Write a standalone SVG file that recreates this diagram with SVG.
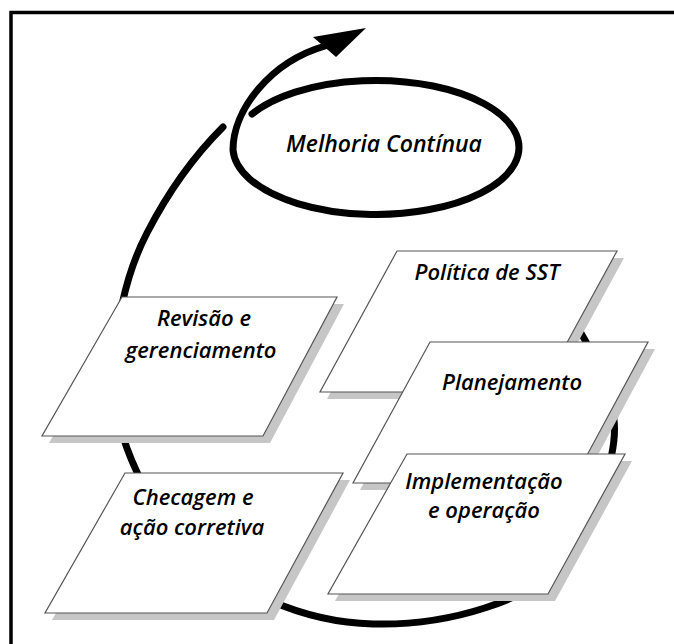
<svg xmlns="http://www.w3.org/2000/svg" width="674" height="644" viewBox="0 0 674 644">
<style>
.lbl{font-family:"Open Sans","Lato","DejaVu Sans",sans-serif;font-style:italic;font-weight:600;font-size:22px;fill:#000;text-anchor:middle}
.box{fill:#fff;stroke:#555;stroke-width:1.2}
.sh{fill:#c6c6c6}
.arc{fill:none;stroke:#000;stroke-width:7;stroke-linecap:round}
</style>
<rect width="674" height="644" fill="#fff"/>
<path d="M11 660 V12.5 H690" fill="none" stroke="#000" stroke-width="3.5"/>
<g id="connectors">
<path class="arc" d="M556 300 C572 315 608 370 614 420 C618 455 595 520 565 562 C530 600 450 626 373 624 C300 622 235 590 190 548 C150 510 114 440 114 380 C114 330 125 275 147 233 C165 198 190 160 223 127"/>
<path class="arc" d="M252 114 A143 67 0 1 1 233 150 C233 110 270 62 325 46"/>
<polygon points="366,28 313,37 336,57" fill="#000"/>
</g>
<g id="melhoria">
<text class="lbl" x="384" y="152" style="font-size:23px">Melhoria Contínua</text>
</g>
<g id="revisao">
<polygon class="sh" points="129,304 344,304 270,443 49,443"/>
<polygon class="box" points="122,297 337,297 263,436 42,436"/>
<text class="lbl" x="204" y="326">Revisão e</text>
<text class="lbl" x="201" y="358">gerenciamento</text>
</g>
<g id="checagem">
<polygon class="sh" points="132,480 350,480 274,620 52,620"/>
<polygon class="box" points="125,473 343,473 267,613 45,613"/>
<text class="lbl" x="193" y="505">Checagem e</text>
<text class="lbl" x="192" y="535">ação corretiva</text>
</g>
<g id="politica">
<polygon class="sh" points="404,258 624,258 547,399 327,399"/>
<polygon class="box" points="397,251 617,251 540,392 320,392"/>
<text class="lbl" x="487" y="280">Política de SST</text>
</g>
<g id="planejamento">
<polygon class="sh" points="437,349 655,349 579,490 360,490"/>
<polygon class="box" points="430,342 648,342 572,483 353,483"/>
<text class="lbl" x="512" y="390">Planejamento</text>
</g>
<g id="implementacao">
<polygon class="sh" points="414,461 632,461 555,601 335,601"/>
<polygon class="box" points="407,454 625,454 548,594 328,594"/>
<text class="lbl" x="484" y="489">Implementação</text>
<text class="lbl" x="484" y="518">e operação</text>
</g>
</svg>
